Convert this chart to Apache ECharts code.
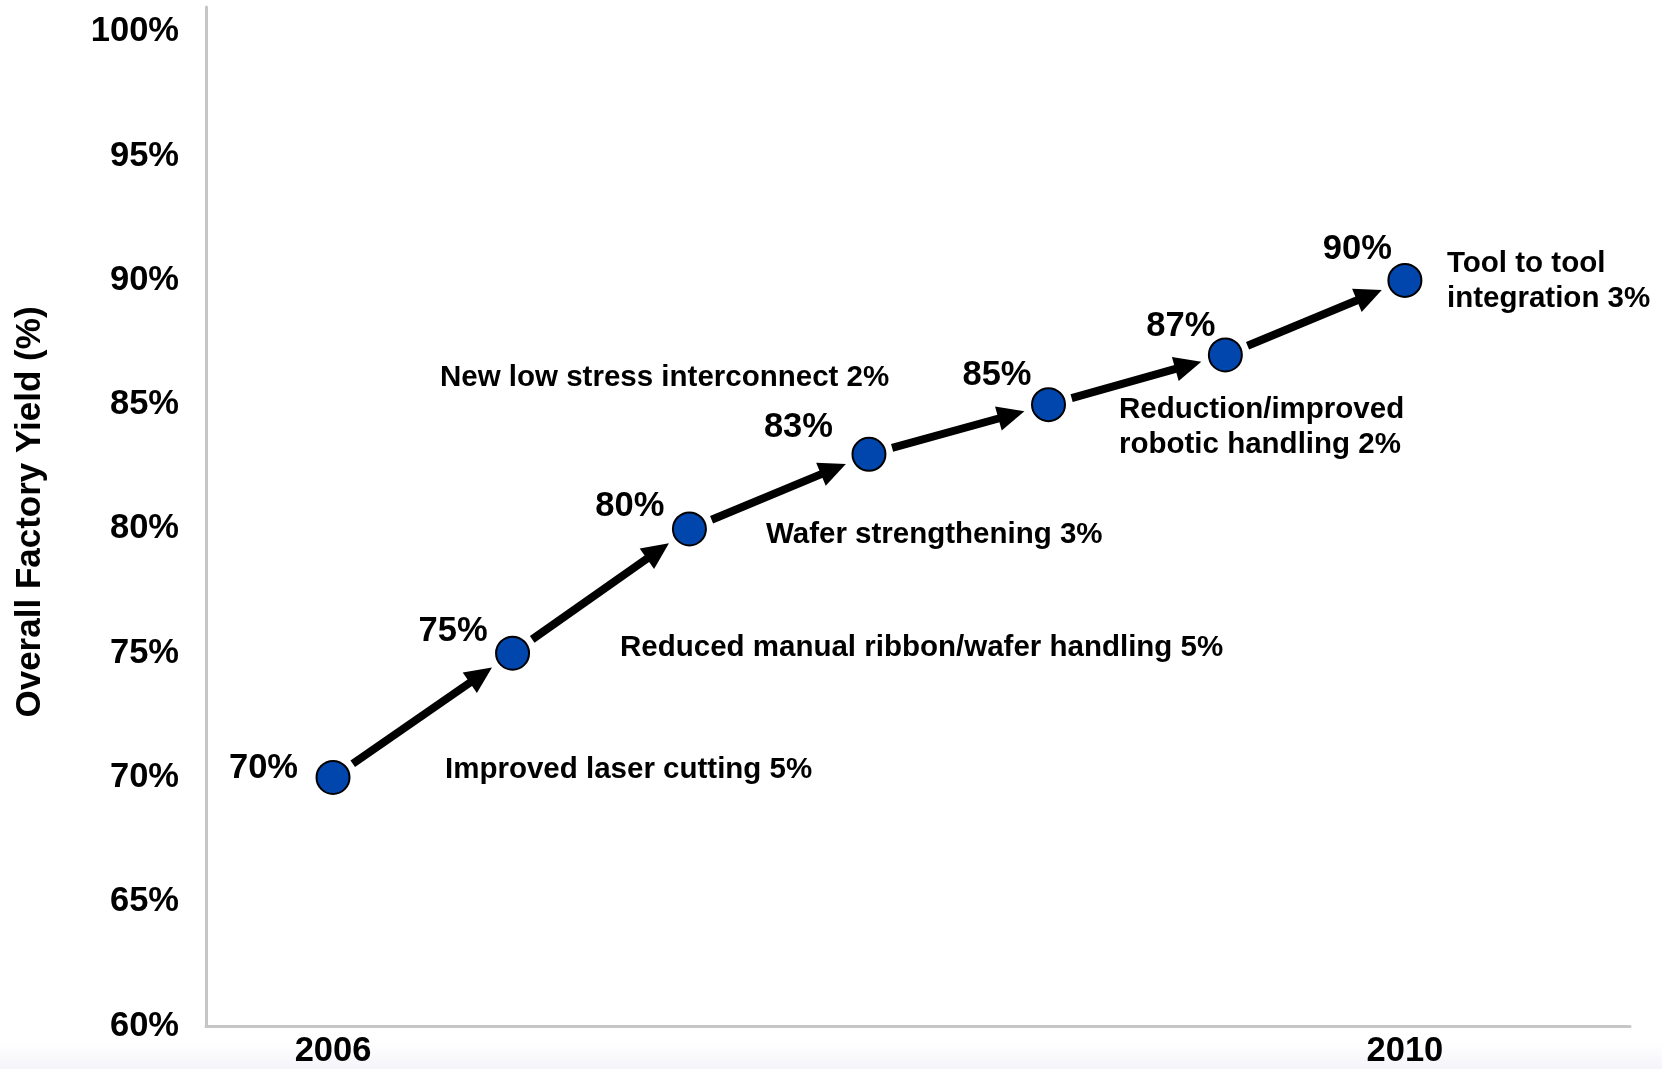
<!DOCTYPE html>
<html>
<head>
<meta charset="utf-8">
<title>Overall Factory Yield</title>
<script src="https://cdn.jsdelivr.net/npm/echarts@6/dist/echarts.min.js"></script>
<style>
  html, body { margin: 0; padding: 0; background: #ffffff; }
  #chart { width: 1662px; height: 1069px; }
</style>
</head>
<body>
<div id="chart"></div>
<script>
// Yield milestones: x position in years, overall factory yield in percent
const years = [2006, 2006.67, 2007.33, 2008, 2008.67, 2009.33, 2010];
const yieldPct = [70, 75, 80, 83, 85, 87, 90];
// Years that carry a label on the horizontal axis
const yearLabels = [2006, 2010];
// Improvement notes, one per step
const stepNotes = [
  'Improved laser cutting 5%',
  'Reduced manual ribbon/wafer handling 5%',
  'Wafer strengthening 3%',
  'New low stress interconnect 2%',
  'Reduction/improved\nrobotic handling 2%',
  'Tool to tool\nintegration 3%'
];

const FONT = '"Liberation Sans", Arial, Helvetica, sans-serif';

// Value-label offsets (right edge / vertical centre relative to each marker)
const valueLabelOffsets = [[-35, -9], [-25, -22], [-25, -22], [-36, -27], [-17, -29], [-10, -28], [-13, -31]];
// Note placement: left edge and vertical centre in pixels
const notePlacement = [[445, 770], [620, 648], [766, 535], [440, 378], [1119, 427], [1447, 281]];

const points = years.map((x, i) => ({
  value: [x, yieldPct[i]],
  label: { offset: valueLabelOffsets[i] }
}));

const segments = [];
for (let i = 0; i < years.length - 1; i++) {
  segments.push([years[i], yieldPct[i], years[i + 1], yieldPct[i + 1]]);
}

// Arrow from one marker toward the next, trimmed so it clears both circles
function renderArrow(params, api) {
  const p0 = api.coord([api.value(0), api.value(1)]);
  const p1 = api.coord([api.value(2), api.value(3)]);
  const dx = p1[0] - p0[0], dy = p1[1] - p0[1];
  const len = Math.sqrt(dx * dx + dy * dy);
  const ux = dx / len, uy = dy / len;
  const nx = -uy, ny = ux;
  const startGap = 24, tipGap = 25, headLen = 27, headHalf = 12.5;
  const sx = p0[0] + ux * startGap, sy = p0[1] + uy * startGap;
  const tx = p1[0] - ux * tipGap, ty = p1[1] - uy * tipGap;
  const bx = tx - ux * headLen, by = ty - uy * headLen;
  return {
    type: 'group',
    children: [
      {
        type: 'line',
        shape: { x1: sx, y1: sy, x2: bx + ux * 3, y2: by + uy * 3 },
        style: { stroke: '#000000', lineWidth: 8, lineCap: 'butt' }
      },
      {
        type: 'polygon',
        shape: { points: [[tx, ty], [bx + nx * headHalf, by + ny * headHalf], [bx - nx * headHalf, by - ny * headHalf]] },
        style: { fill: '#000000' }
      }
    ]
  };
}

const noteGraphics = stepNotes.map((t, i) => ({
  type: 'text',
  x: notePlacement[i][0],
  y: notePlacement[i][1],
  z: 10,
  style: {
    text: t,
    font: 'bold 29.5px ' + FONT,
    fill: '#000000',
    align: 'left',
    verticalAlign: 'middle',
    textAlign: 'left',
    textVerticalAlign: 'middle',
    lineHeight: 35
  }
}));

const chart = echarts.init(document.getElementById('chart'), null, { renderer: 'canvas' });

chart.setOption({
  backgroundColor: '#ffffff',
  animation: false,
  grid: { left: 206, right: 32, top: 7, bottom: 39, containLabel: false },
  xAxis: {
    type: 'value',
    min: 2005.526,
    max: 2010.84,
    splitLine: { show: false },
    axisTick: { show: false },
    axisLine: { show: true, lineStyle: { color: '#c6c6c6', width: 3 } },
    axisLabel: {
      show: true,
      margin: 8,
      color: '#000000',
      fontFamily: FONT,
      fontWeight: 'bold',
      fontSize: 34.5,
      showMinLabel: false,
      showMaxLabel: false,
      formatter: v => (yearLabels.indexOf(Math.round(v * 1000) / 1000) >= 0 ? String(v) : '')
    }
  },
  yAxis: {
    type: 'value',
    min: 60,
    max: 101,
    interval: 5,
    splitLine: { show: false },
    axisTick: { show: false },
    axisLine: { show: true, lineStyle: { color: '#c6c6c6', width: 3 } },
    axisLabel: {
      margin: 27,
      color: '#000000',
      fontFamily: FONT,
      fontWeight: 'bold',
      fontSize: 34.5,
      formatter: v => (v % 5 === 0 ? v + '%' : '')
    },
    name: 'Overall Factory Yield (%)',
    nameLocation: 'middle',
    nameRotate: 90,
    nameGap: 158,
    nameTextStyle: {
      color: '#000000',
      fontFamily: FONT,
      fontWeight: 'bold',
      fontSize: 35,
      padding: [0, 0, 0, 9]
    }
  },
  graphic: [
    {
      type: 'rect',
      left: 0,
      top: 1043,
      z: -1,
      shape: { width: 1662, height: 26 },
      style: {
        fill: new echarts.graphic.LinearGradient(0, 0, 0, 1, [
          { offset: 0, color: '#ffffff' },
          { offset: 1, color: '#f4f4fa' }
        ])
      }
    }
  ].concat(noteGraphics),
  series: [
    {
      type: 'custom',
      renderItem: renderArrow,
      encode: { x: [0, 2], y: [1, 3] },
      data: segments,
      z: 2,
      silent: true
    },
    {
      type: 'scatter',
      data: points,
      symbol: 'circle',
      symbolSize: 33,
      z: 3,
      itemStyle: { color: '#0046ad', borderColor: '#000000', borderWidth: 2, opacity: 1 },
      label: {
        show: true,
        position: 'inside',
        align: 'right',
        verticalAlign: 'middle',
        color: '#000000',
        fontFamily: FONT,
        fontWeight: 'bold',
        fontSize: 34.5,
        formatter: p => p.value[1] + '%'
      }
    }
  ]
});
</script>
</body>
</html>
